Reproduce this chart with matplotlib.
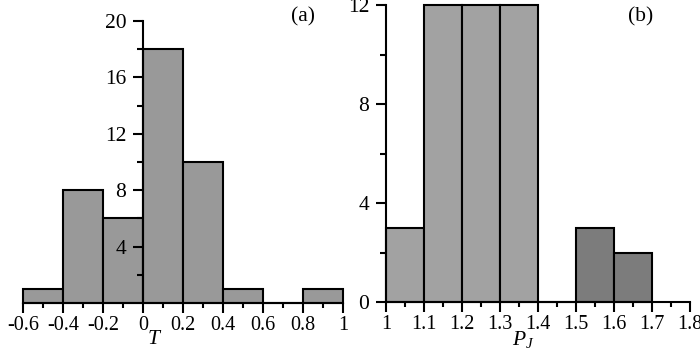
import matplotlib
matplotlib.use("Agg")
import matplotlib.pyplot as plt
from matplotlib.ticker import MultipleLocator, FixedLocator
import matplotlib.transforms as mtransforms

plt.rcParams['font.family'] = ['Liberation Serif', 'DejaVu Serif']
plt.rcParams['axes.unicode_minus'] = False
plt.rcParams['mathtext.fontset'] = 'custom'
plt.rcParams['mathtext.it'] = 'Liberation Serif:italic'
plt.rcParams['mathtext.rm'] = 'Liberation Serif'

# Panel (a): T histogram
t_edges = [-0.6, -0.4, -0.2, 0.0, 0.2, 0.4, 0.6, 0.8]
t_counts = [1, 8, 6, 18, 10, 1, 0, 1]
t_width = 0.2
t_xticks = [-0.6, -0.4, -0.2, 0, 0.2, 0.4, 0.6, 0.8, 1]
t_xticklabels = ['-0.6', '-0.4', '-0.2', '0', '0.2', '0.4', '0.6', '0.8', '1']
t_yticks = [4, 8, 12, 16, 20]

# Panel (b): P_J histogram
p_edges = [1.0, 1.1, 1.2, 1.3, 1.4, 1.5, 1.6]
p_counts = [3, 12, 12, 12, 0, 3, 2]
p_groups = ['light', 'light', 'light', 'light', 'light', 'dark', 'dark']
p_width = 0.1
p_xticks = [1, 1.1, 1.2, 1.3, 1.4, 1.5, 1.6, 1.7, 1.8]
p_xticklabels = ['1', '1.1', '1.2', '1.3', '1.4', '1.5', '1.6', '1.7', '1.8']
p_yticks = [0, 4, 8, 12]

W, H = 700, 354
fig = plt.figure(figsize=(7.0, 3.54), dpi=100)

ax1 = fig.add_axes([23 / W, (H - 303) / H, 320 / W, (303 - 21) / H])
ax2 = fig.add_axes([386 / W, (H - 302) / H, 304 / W, (302 - 5) / H])

fs = 15.5
fsx = 14.5
lw = 1.5

def style(ax):
    ax.spines['top'].set_visible(False)
    ax.spines['right'].set_visible(False)
    for s in ['left', 'bottom']:
        ax.spines[s].set_linewidth(lw)
    ax.tick_params(which='major', direction='out', width=lw)
    ax.tick_params(which='minor', direction='out', width=lw)
    ax.tick_params(axis='x', which='major', length=7, pad=2.5, labelsize=fsx)
    ax.tick_params(axis='x', which='minor', length=3.5)
    ax.tick_params(axis='y', which='major', length=7, pad=5, labelsize=fs)
    ax.tick_params(axis='y', which='minor', length=4)
    ax.patch.set_alpha(0)

# (a)
ax1.bar(t_edges, t_counts, width=t_width, align='edge', color='#999999',
        edgecolor='black', linewidth=lw, zorder=1)
ax1.set_xlim(-0.6, 1.0)
ax1.set_ylim(0, 20)
ax1.spines['left'].set_position(('data', 0))
ax1.xaxis.set_major_locator(FixedLocator(t_xticks))
ax1.set_xticklabels(t_xticklabels)
ax1.xaxis.set_minor_locator(MultipleLocator(0.1))
ax1.yaxis.set_major_locator(FixedLocator(t_yticks))
ax1.yaxis.set_minor_locator(FixedLocator([2, 6, 10, 14, 18]))
style(ax1)
tr1 = mtransforms.blended_transform_factory(ax1.transData, fig.transFigure)
ax1.text(0.06, (H - 340) / H, r'$T$', transform=tr1, ha='center', va='center', fontsize=fs)
fig.text(303 / W, (H - 17) / H, '(a)', ha='center', va='center', fontsize=fs)

# (b)
colors = {'light': '#a2a2a2', 'dark': '#7c7c7c'}
ax2.bar(p_edges, p_counts, width=p_width, align='edge',
        color=[colors[g] for g in p_groups], edgecolor='black', linewidth=lw, zorder=1)
ax2.set_xlim(1.0, 1.8)
ax2.set_ylim(0, 12)
ax2.xaxis.set_major_locator(FixedLocator(p_xticks))
ax2.set_xticklabels(p_xticklabels)
ax2.xaxis.set_minor_locator(MultipleLocator(0.05))
ax2.yaxis.set_major_locator(FixedLocator(p_yticks))
ax2.yaxis.set_minor_locator(FixedLocator([2, 6, 10]))
style(ax2)
tr2 = mtransforms.blended_transform_factory(ax2.transData, fig.transFigure)
ax2.text(1.36, (H - 340) / H, r'$P_J$', transform=tr2, ha='center', va='center', fontsize=fs)
fig.text(641 / W, (H - 17) / H, '(b)', ha='center', va='center', fontsize=fs)

for ax in (ax1, ax2):
    for p in ax.patches:
        p.set_clip_on(False)

fig.savefig('out.png', dpi=100)
